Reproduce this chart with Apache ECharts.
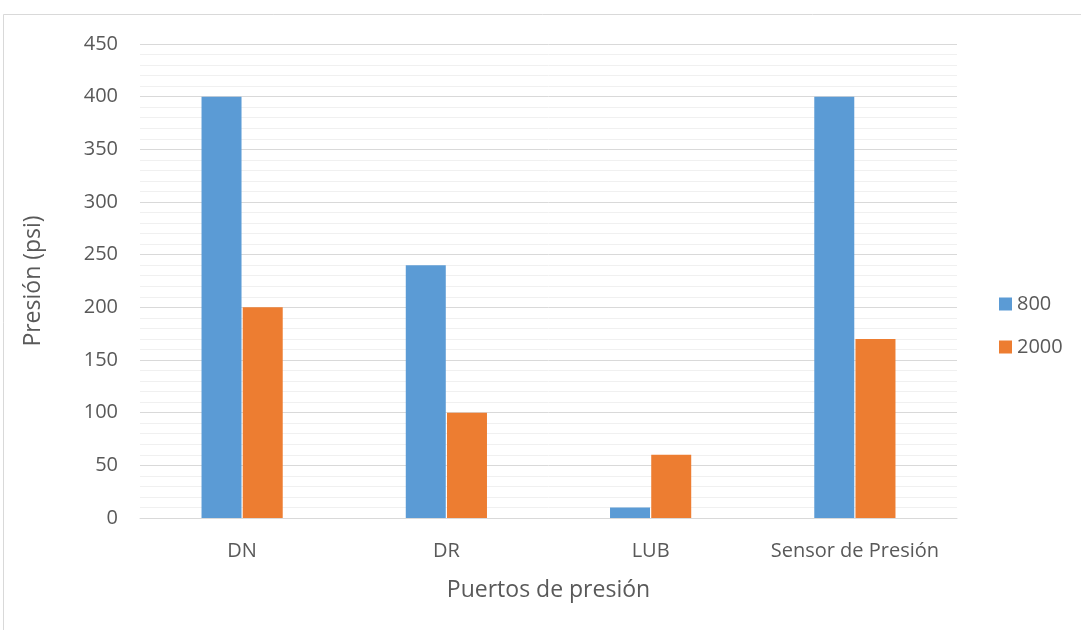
<!DOCTYPE html>
<html>
<head>
<meta charset="utf-8">
<script src="https://cdn.jsdelivr.net/npm/echarts@6/dist/echarts.min.js"></script>
<style>
  html, body { margin: 0; padding: 0; background: #fff; }
  #chart { width: 1081px; height: 630px; }
</style>
</head>
<body>
<div id="chart"></div>
<script>
// Presión medida en cada puerto, para dos velocidades
const categories = ['DN', 'DR', 'LUB', 'Sensor de Presión'];
const seriesNames = ['800', '2000'];
const values800 = [400, 240, 10, 400];
const values2000 = [200, 100, 60, 170];
const yTicks = [0, 50, 100, 150, 200, 250, 300, 350, 400, 450];

const FONT = '"Open Sans", "DejaVu Sans", sans-serif';
const TEXT = '#595959';

const chart = echarts.init(document.getElementById('chart'), null, { renderer: 'canvas' });
chart.setOption({
  animation: false,
  backgroundColor: '#ffffff',
  textStyle: { fontFamily: FONT },
  graphic: [{
    type: 'rect',
    shape: { x: 3.5, y: 14.5, width: 1200, height: 800 },
    style: { fill: 'none', stroke: '#d9d9d9', lineWidth: 1 },
    silent: true
  }],
  grid: { left: 140, right: 124, top: 44, bottom: 112, containLabel: false },
  legend: {
    orient: 'vertical',
    left: 999,
    top: 294,
    padding: 0,
    itemWidth: 13,
    itemHeight: 13,
    itemGap: 23,
    icon: 'rect',
    data: seriesNames,
    textStyle: { color: TEXT, fontSize: 20, fontFamily: FONT, lineHeight: 20 }
  },
  xAxis: {
    type: 'category',
    data: categories,
    name: 'Puertos de presión',
    nameLocation: 'middle',
    nameGap: 61,
    nameTextStyle: { color: TEXT, fontSize: 23, fontFamily: FONT },
    axisLine: { lineStyle: { color: '#d9d9d9', width: 1 } },
    axisTick: { show: false },
    axisLabel: { color: TEXT, fontSize: 20, fontFamily: FONT, margin: 23, interval: 0 }
  },
  yAxis: {
    type: 'value',
    min: yTicks[0],
    max: yTicks[yTicks.length - 1],
    interval: yTicks[1] - yTicks[0],
    name: 'Presión (psi)',
    nameLocation: 'middle',
    nameGap: 95,
    nameTextStyle: { color: TEXT, fontSize: 23, fontFamily: FONT },
    axisLine: { show: false },
    axisTick: { show: false },
    axisLabel: { color: TEXT, fontSize: 20, fontFamily: FONT, margin: 22 },
    splitLine: { lineStyle: { color: '#d9d9d9', width: 1 } },
    minorTick: { show: false, splitNumber: 5 },
    minorSplitLine: { show: true, lineStyle: { color: '#f0f0f0', width: 1 } }
  },
  series: [
    {
      name: seriesNames[0],
      type: 'bar',
      data: values800,
      barWidth: 40,
      barGap: '3%',
      itemStyle: { color: '#5b9bd5' }
    },
    {
      name: seriesNames[1],
      type: 'bar',
      data: values2000,
      barWidth: 40,
      barGap: '3%',
      itemStyle: { color: '#ed7d31' }
    }
  ]
});
</script>
</body>
</html>
